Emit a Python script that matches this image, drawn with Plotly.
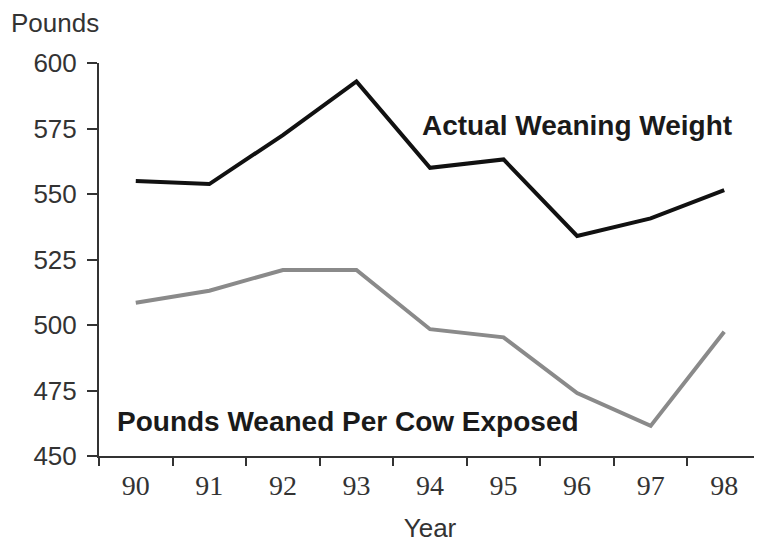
import plotly.graph_objects as go

years = ["90", "91", "92", "93", "94", "95", "96", "97", "98"]
actual_weaning_weight = [555, 553.8, 572.5, 593, 560, 563.2, 534, 540.7, 551.5]
pounds_weaned_per_cow = [508.5, 513.1, 521, 521, 498.4, 495.3, 474, 461.5, 497.4]
y_ticks = [450, 475, 500, 525, 550, 575, 600]

AX = "#333333"
SANS = "Liberation Sans, Arial, sans-serif"
SERIF = "Liberation Serif, Times New Roman, serif"

fig = go.Figure()
fig.add_trace(go.Scatter(x=years, y=actual_weaning_weight, mode="lines",
                         line=dict(color="#111111", width=4), showlegend=False,
                         name="Actual Weaning Weight"))
fig.add_trace(go.Scatter(x=years, y=pounds_weaned_per_cow, mode="lines",
                         line=dict(color="#8a8a8a", width=4), showlegend=False,
                         name="Pounds Weaned Per Cow Exposed"))

fig.add_annotation(x=6, y=576, xref="x", yref="y", text="<b>Actual Weaning Weight</b>",
                   showarrow=False, font=dict(family=SANS, size=28, color="#1a1a1a"))
fig.add_annotation(x=2.885, y=463, xref="x", yref="y", text="<b>Pounds Weaned Per Cow Exposed</b>",
                   showarrow=False, font=dict(family=SANS, size=28, color="#1a1a1a"))
fig.add_annotation(x=0, y=1, xref="paper", yref="paper", xanchor="left", yanchor="middle",
                   xshift=-90, yshift=40, text="Pounds", showarrow=False,
                   font=dict(family=SANS, size=26, color="#333333"))

fig.update_layout(
    width=754, height=535,
    margin=dict(l=91, r=1, t=55, b=87, autoexpand=False),
    paper_bgcolor="white", plot_bgcolor="white",
    xaxis=dict(type="category", range=[-0.5, 8.5], tickson="boundaries", automargin=False,
               ticks="outside", ticklen=8, tickwidth=2, tickcolor=AX,
               showline=True, linecolor=AX, linewidth=2, showgrid=False, zeroline=False,
               tickfont=dict(family=SERIF, size=28, color="#333333"), ticklabelstandoff=3,
               title=dict(text="Year", font=dict(family=SANS, size=26, color="#333333"), standoff=20)),
    yaxis=dict(range=[450, 600], tickvals=y_ticks, automargin=False,
               ticks="outside", ticklen=10, tickwidth=2, tickcolor=AX,
               showline=True, linecolor=AX, linewidth=2, showgrid=False, zeroline=False,
               tickfont=dict(family=SANS, size=26, color="#333333"), ticklabelstandoff=5),
)

fig.write_html("out.html")
